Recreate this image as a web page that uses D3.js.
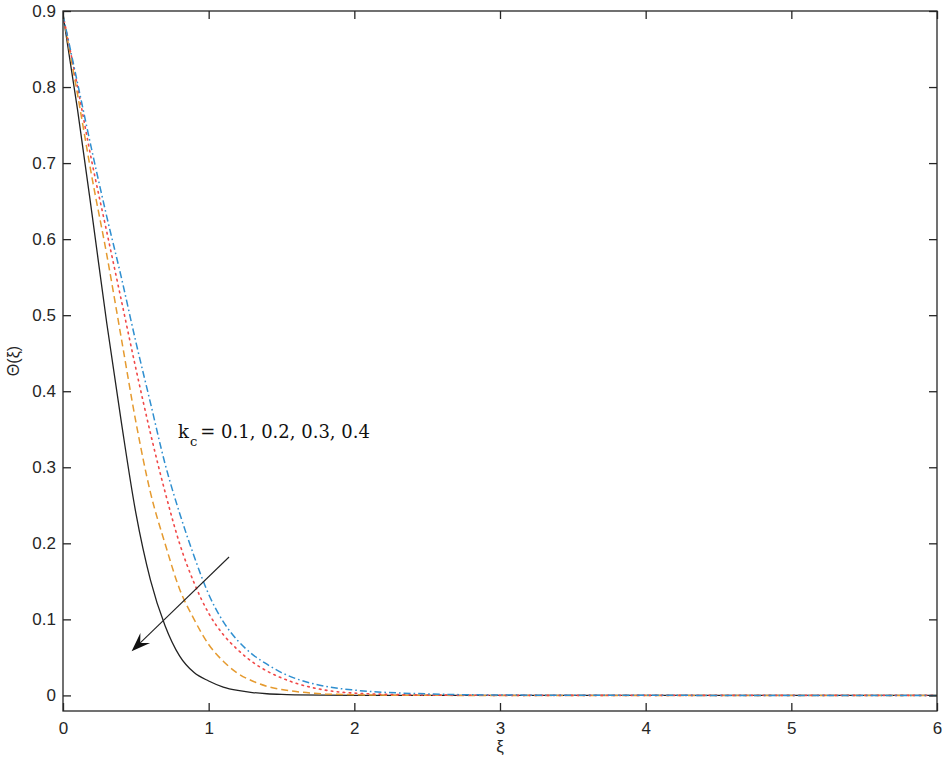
<!DOCTYPE html>
<html>
<head>
<meta charset="utf-8">
<script src="https://cdn.jsdelivr.net/npm/d3@7"></script>
<style>
  body { margin: 0; background: #fff; }
  svg { display: block; }
</style>
</head>
<body>
<svg id="plotSvg" width="944" height="772"></svg>
<script>
var xi = [0, 0.1, 0.2, 0.3, 0.4, 0.5, 0.6, 0.7, 0.8, 0.9, 1.0, 1.1, 1.2, 1.3, 1.4, 1.5, 1.6, 1.8, 2.0, 2.5, 3, 4, 5, 6];

// Theta(xi) for each kc
var theta_kc01 = [0.895, 0.805, 0.715, 0.63, 0.55, 0.465, 0.385, 0.305, 0.24, 0.183, 0.133, 0.097, 0.072, 0.054, 0.041, 0.03, 0.022, 0.012, 0.007, 0.002, 0.0005, 0.0001, 0, 0];
var theta_kc02 = [0.895, 0.8, 0.70, 0.61, 0.52, 0.43, 0.345, 0.268, 0.2, 0.148, 0.108, 0.08, 0.06, 0.044, 0.032, 0.023, 0.016, 0.007, 0.003, 0.0005, 0.0001, 0, 0, 0];
var theta_kc03 = [0.895, 0.79, 0.68, 0.58, 0.47, 0.36, 0.267, 0.2, 0.14, 0.1, 0.067, 0.045, 0.029, 0.019, 0.012, 0.0078, 0.005, 0.002, 0.0009, 0.0001, 0, 0, 0, 0];
var theta_kc04 = [0.895, 0.77, 0.632, 0.49, 0.36, 0.24, 0.152, 0.092, 0.052, 0.03, 0.019, 0.011, 0.0065, 0.0038, 0.0022, 0.0013, 0.0008, 0.0003, 0.0001, 0, 0, 0, 0, 0];

var xTicks = [0, 1, 2, 3, 4, 5, 6];
var yTicks = [0, 0.1, 0.2, 0.3, 0.4, 0.5, 0.6, 0.7, 0.8, 0.9];

var series = [
    {values: theta_kc04, color: "#222222", dash: null, width: 1.3},
    {values: theta_kc03, color: "#e59a2f", dash: "7,4", width: 1.5},
    {values: theta_kc02, color: "#f04848", dash: "1.6,4.4", width: 1.6},
    {values: theta_kc01, color: "#2f8fd0", dash: "7,3,1.6,3", width: 1.5}
];

// annotation (data coords)
var arrowFrom = [1.14, 0.182];
var arrowTo = [0.471, 0.058];
var labelAt = [0.79, 0.339];

var margin = {top: 11, right: 7, bottom: 61, left: 63};
var width = 944 - margin.left - margin.right;
var height = 772 - margin.top - margin.bottom;
var axisColor = "#262626";

var svg = d3.select("#plotSvg");
var g = svg.append("g").attr("transform", "translate(" + margin.left + "," + margin.top + ")");

var x = d3.scaleLinear().domain([0, 6]).range([0, width]);
var y = d3.scaleLinear().domain([-0.0205, 0.9]).range([height, 0]);

g.append("defs").append("clipPath").attr("id", "clip")
    .append("rect").attr("width", width).attr("height", height);

var line = d3.line()
    .x(function (d) { return x(d[0]); })
    .y(function (d) { return y(d[1]); })
    .curve(d3.curveMonotoneX);

g.append("g").attr("clip-path", "url(#clip)")
    .selectAll("path")
    .data(series)
    .enter().append("path")
    .attr("d", function (s) {
        return line(xi.map(function (v, i) { return [v, s.values[i]]; }));
    })
    .attr("fill", "none")
    .attr("stroke", function (s) { return s.color; })
    .attr("stroke-width", function (s) { return s.width; })
    .attr("stroke-dasharray", function (s) { return s.dash; })
    .attr("stroke-linecap", function (s) { return s.dash && s.dash.indexOf("1.6") === 0 ? "round" : "butt"; });

// axes, ticks pointing inward on all four sides
function styleAxis(sel) {
    sel.select(".domain").remove();
    sel.selectAll(".tick line").attr("stroke", axisColor).attr("stroke-width", 1.3);
    sel.selectAll(".tick text")
        .attr("fill", axisColor)
        .attr("font-family", "'Liberation Sans', Arial, sans-serif")
        .attr("font-size", 17);
}

var fmt = function (d) { return d3.format("~g")(d); };

g.append("g")
    .attr("transform", "translate(0," + height + ")")
    .call(d3.axisBottom(x).tickValues(xTicks).tickFormat(fmt).tickSizeInner(-8).tickSizeOuter(0).tickPadding(11))
    .call(styleAxis);

g.append("g")
    .call(d3.axisTop(x).tickValues(xTicks).tickFormat("").tickSizeInner(-8).tickSizeOuter(0))
    .call(styleAxis);

g.append("g")
    .call(d3.axisLeft(y).tickValues(yTicks).tickFormat(fmt).tickSizeInner(-8).tickSizeOuter(0).tickPadding(7))
    .call(styleAxis);

g.append("g")
    .attr("transform", "translate(" + width + ",0)")
    .call(d3.axisRight(y).tickValues(yTicks).tickFormat("").tickSizeInner(-8).tickSizeOuter(0))
    .call(styleAxis);

g.append("rect")
    .attr("width", width)
    .attr("height", height)
    .attr("fill", "none")
    .attr("stroke", axisColor)
    .attr("stroke-width", 1.3);

// axis labels
svg.append("text")
    .attr("x", margin.left + width / 2)
    .attr("y", 752)
    .attr("text-anchor", "middle")
    .attr("font-family", "'Liberation Sans', Arial, sans-serif")
    .attr("font-size", 17)
    .attr("fill", axisColor)
    .text("ξ");

svg.append("text")
    .attr("transform", "translate(19," + (margin.top + height / 2) + ") rotate(-90)")
    .attr("text-anchor", "middle")
    .attr("font-family", "'Liberation Sans', Arial, sans-serif")
    .attr("font-size", 16)
    .attr("fill", axisColor)
    .text("Θ(ξ)");

// kc annotation
var label = g.append("text")
    .attr("x", x(labelAt[0]))
    .attr("y", y(labelAt[1]))
    .attr("font-family", "'DejaVu Serif', 'Liberation Serif', serif")
    .attr("font-size", 18)
    .attr("fill", "#111");
label.append("tspan").text("k");
label.append("tspan").attr("font-size", 13).attr("dy", 8).attr("dx", 1).text("c");
label.append("tspan").attr("dy", -8).attr("dx", 3).text("= 0.1, 0.2, 0.3, 0.4");

// arrow
var x1 = x(arrowFrom[0]), y1 = y(arrowFrom[1]);
var x2 = x(arrowTo[0]), y2 = y(arrowTo[1]);
var ang = Math.atan2(y2 - y1, x2 - x1);
var headLen = 19, headHalf = 7, notch = 12;
g.append("line")
    .attr("x1", x1).attr("y1", y1)
    .attr("x2", x2 - Math.cos(ang) * notch).attr("y2", y2 - Math.sin(ang) * notch)
    .attr("stroke", "#222").attr("stroke-width", 1.1);

function pt(along, across) {
    return [x2 - Math.cos(ang) * along - Math.sin(ang) * across,
            y2 - Math.sin(ang) * along + Math.cos(ang) * across];
}
g.append("path")
    .attr("d", "M" + [x2, y2] + "L" + pt(headLen, headHalf) + "L" + pt(notch, 0) + "L" + pt(headLen, -headHalf) + "Z")
    .attr("fill", "#111");
</script>
</body>
</html>
